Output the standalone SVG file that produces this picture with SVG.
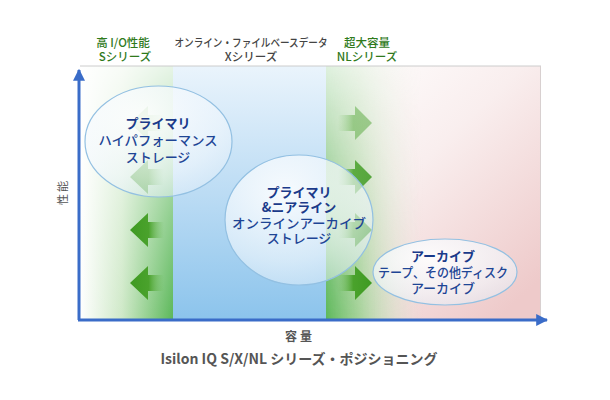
<svg xmlns="http://www.w3.org/2000/svg" width="610" height="400" viewBox="0 0 610 400">
<defs>
<linearGradient id="sH" x1="0" y1="0" x2="1" y2="0">
<stop offset="0" stop-color="#ffffff"/><stop offset="0.45" stop-color="#cfe9c8"/><stop offset="1" stop-color="#5cb85a"/>
</linearGradient>
<linearGradient id="fadeTop" x1="0" y1="0" x2="0" y2="1">
<stop offset="0" stop-color="#ffffff" stop-opacity="0.85"/><stop offset="0.6" stop-color="#ffffff" stop-opacity="0.3"/><stop offset="1" stop-color="#ffffff" stop-opacity="0"/>
</linearGradient>
<linearGradient id="maskV" x1="0" y1="0" x2="0" y2="1">
<stop offset="0" stop-color="#ffffff" stop-opacity="0.2"/><stop offset="0.6" stop-color="#ffffff" stop-opacity="0.7"/><stop offset="1" stop-color="#ffffff" stop-opacity="1"/>
</linearGradient>
<mask id="nlMask" maskUnits="userSpaceOnUse" x="326" y="66" width="215" height="253">
<rect x="326" y="66" width="215" height="253" fill="url(#maskV)"/>
</mask>
<linearGradient id="xV" x1="0" y1="0" x2="0" y2="1">
<stop offset="0" stop-color="#eaf4fc"/><stop offset="0.5" stop-color="#bcdcf4"/><stop offset="1" stop-color="#8cc4ec"/>
</linearGradient>
<linearGradient id="pink" x1="0" y1="0" x2="0.8" y2="1">
<stop offset="0" stop-color="#ffffff"/><stop offset="0.45" stop-color="#f9eeee"/><stop offset="1" stop-color="#eecaca"/>
</linearGradient>
<linearGradient id="nlG" x1="0" y1="0" x2="1" y2="0">
<stop offset="0" stop-color="#5cb85a" stop-opacity="1"/><stop offset="0.15" stop-color="#8fcf86" stop-opacity="0.8"/><stop offset="0.45" stop-color="#e4f3e0" stop-opacity="0"/>
</linearGradient>
<linearGradient id="arL" x1="0" y1="0" x2="1" y2="0">
<stop offset="0" stop-color="#3e9a22"/><stop offset="0.55" stop-color="#4aa22c"/><stop offset="1" stop-color="#6cbc58" stop-opacity="0"/>
</linearGradient>
<linearGradient id="arR" x1="0" y1="0" x2="1" y2="0">
<stop offset="0" stop-color="#6cbc58" stop-opacity="0"/><stop offset="0.45" stop-color="#4aa22c"/><stop offset="1" stop-color="#3e9a22"/>
</linearGradient>
<radialGradient id="ell" cx="0.4" cy="0.3" r="0.75">
<stop offset="0" stop-color="#ffffff" stop-opacity="0.88"/><stop offset="0.7" stop-color="#f2f8fd" stop-opacity="0.62"/><stop offset="1" stop-color="#e4f0fa" stop-opacity="0.5"/>
</radialGradient>
<marker id="ah" viewBox="0 0 10 10" refX="9" refY="5" markerWidth="4" markerHeight="4" orient="auto">
<path d="M0,0 L10,5 L0,10 Z" fill="#3a6cc8"/>
</marker>
<path id="la" d="M0,0 L18,-17 L18,-8 L34,-8 L34,8 L18,8 L18,17 Z"/>
<path id="ra" d="M0,0 L-17,-17 L-17,-8 L-34,-8 L-34,8 L-17,8 L-17,17 Z"/>
</defs>
<style>
.hd{font-family:"Noto Sans CJK JP","Liberation Sans",sans-serif;font-size:11.5px;text-anchor:middle;font-weight:500}
.g{fill:#2f7a1c}
.gr{fill:#444444}
.el{fill:url(#ell);stroke:#93c0e2;stroke-width:1.2}
.t{font-family:"Noto Sans CJK JP","Liberation Sans",sans-serif;font-size:13px;fill:#1e4595;text-anchor:middle;font-weight:500}
.b{font-weight:bold;fill:#1a3a8a}
</style>
<rect width="610" height="400" fill="#ffffff"/>
<g id="background">
<rect x="80" y="66" width="93" height="253" fill="url(#sH)"/>
<rect x="80" y="66" width="93" height="253" fill="url(#fadeTop)"/>
<rect x="173" y="66" width="153" height="253" fill="url(#xV)"/>
<rect x="326" y="66" width="215" height="253" fill="url(#pink)"/>
<rect x="326" y="66" width="215" height="253" fill="url(#nlG)" mask="url(#nlMask)"/>
<line x1="80" y1="66" x2="541" y2="66" stroke="#cccccc" stroke-width="1"/>
<line x1="540.5" y1="66" x2="540.5" y2="319" stroke="#d8d0d0" stroke-width="1"/>
</g>
<g id="headers">
<text class="hd g" x="123" y="47">高 I/O性能</text>
<text class="hd g" x="125" y="61">Sシリーズ</text>
<text class="hd gr" x="251" y="47" font-size="11" textLength="153" lengthAdjust="spacingAndGlyphs">オンライン・ファイルベースデータ</text>
<text class="hd gr" x="251" y="61" font-size="11">Xシリーズ</text>
<text class="hd g" x="367" y="47">超大容量</text>
<text class="hd g" x="367" y="61">NLシリーズ</text>
</g>
<g id="arrows">
<use href="#la" x="130" y="123" fill="url(#arL)" opacity="0.45"/>
<use href="#la" x="130" y="177" fill="url(#arL)" opacity="0.75"/>
<use href="#la" x="130" y="230" fill="url(#arL)"/>
<use href="#la" x="130" y="283" fill="url(#arL)"/>
<use href="#ra" x="372" y="123" fill="url(#arR)" opacity="0.45"/>
<use href="#ra" x="372" y="177" fill="url(#arR)" opacity="0.85"/>
<use href="#ra" x="372" y="230" fill="url(#arR)"/>
<use href="#ra" x="372" y="283" fill="url(#arR)"/>
</g>
<g id="node-s">
<ellipse class="el" cx="158.5" cy="141.5" rx="73.5" ry="55.5"/>
<text class="t b" x="158" y="128">プライマリ</text>
<text class="t" x="158" y="145" textLength="119" lengthAdjust="spacingAndGlyphs">ハイパフォーマンス</text>
<text class="t" x="158" y="162">ストレージ</text>
</g>
<g id="node-x">
<ellipse class="el" cx="299" cy="220" rx="74" ry="65"/>
<text class="t b" x="299" y="197">プライマリ</text>
<text class="t b" x="299" y="212">&amp;ニアライン</text>
<text class="t" x="299" y="228" textLength="134" lengthAdjust="spacingAndGlyphs">オンラインアーカイブ</text>
<text class="t" x="299" y="243">ストレージ</text>
</g>
<g id="node-nl">
<ellipse class="el" cx="445" cy="272" rx="72" ry="33"/>
<text class="t b" x="443" y="261">アーカイブ</text>
<text class="t" x="443" y="277" font-size="12.5" textLength="130" lengthAdjust="spacingAndGlyphs">テープ、その他ディスク</text>
<text class="t" x="443" y="293" font-size="12.5">アーカイブ</text>
</g>
<g id="axes">
<line x1="79" y1="320" x2="79" y2="70" stroke="#3a6cc8" stroke-width="3" marker-end="url(#ah)"/>
<line x1="78" y1="320" x2="547" y2="320" stroke="#3a6cc8" stroke-width="3" marker-end="url(#ah)"/>
</g>
<g id="labels">
<text x="62" y="192" transform="rotate(-90 62 192)" font-family="'Noto Sans CJK JP','Liberation Sans',sans-serif" font-size="11" fill="#555555" text-anchor="middle" dominant-baseline="central" letter-spacing="2">性能</text>
<text x="300" y="341" font-family="'Noto Sans CJK JP','Liberation Sans',sans-serif" font-size="12" font-weight="bold" fill="#555555" text-anchor="middle" letter-spacing="3">容量</text>
<text x="299" y="364" font-family="'Noto Sans CJK JP','Liberation Sans',sans-serif" font-size="14" font-weight="bold" fill="#555555" text-anchor="middle">Isilon IQ S/X/NL シリーズ・ポジショニング</text>
</g>
</svg>
